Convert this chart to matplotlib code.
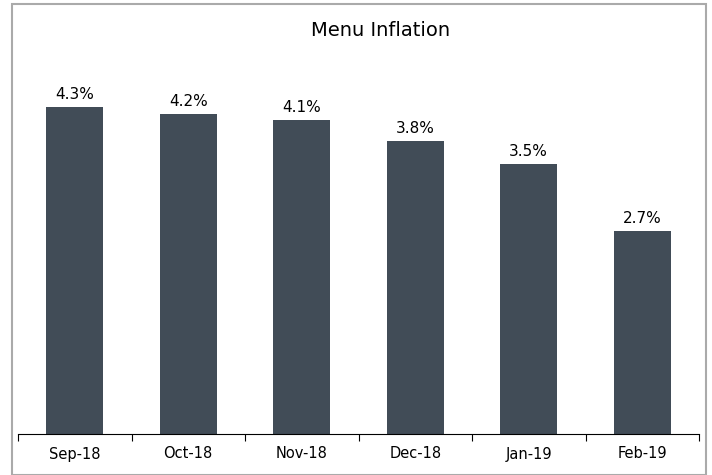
import matplotlib
matplotlib.use('Agg')
import matplotlib.pyplot as plt
from matplotlib.patches import Rectangle
import numpy as np

months = ['Sep-18', 'Oct-18', 'Nov-18', 'Dec-18', 'Jan-19', 'Feb-19']
# bar heights (labels are rounded)
inflation = [4.30, 4.21, 4.13, 3.85, 3.55, 2.67]
labels = ['4.3%', '4.2%', '4.1%', '3.8%', '3.5%', '2.7%']

BAR_COLOR = '#414C57'

fig = plt.figure(figsize=(7.12, 4.75), dpi=100)
ax = fig.add_axes([18/712, 1-434/475, (699-18)/712, 380/475])

x = np.arange(len(months))
ax.bar(x, inflation, width=0.5, color=BAR_COLOR)
for xi, v, lab in zip(x, inflation, labels):
    ax.text(xi, v + 0.07, lab, ha='center', va='bottom', fontsize=11)

ax.set_xlim(-0.5, len(months) - 0.5)
ax.set_ylim(0, 5)
ax.set_yticks([])
ax.set_xticks(x)
ax.set_xticklabels(months, fontsize=10.5)
ax.set_xticks(np.arange(-0.5, len(months)), minor=True)
ax.tick_params(axis='x', which='major', length=0, pad=9)
ax.tick_params(axis='x', which='minor', length=5, color='black', width=0.8)
for s in ['top', 'right', 'left']:
    ax.spines[s].set_visible(False)
ax.spines['bottom'].set_linewidth(0.8)

fig.text(0.535, 1 - 30/475, 'Menu Inflation', ha='center', va='center', fontsize=14)

# outer frame
fig.patches.append(Rectangle((11.5/712, 0.5/475), (706-11.5)/712, (470.5)/475,
                             transform=fig.transFigure, fill=False,
                             edgecolor='#AAAAAA', linewidth=1.5))

fig.savefig('out.png', dpi=100)
